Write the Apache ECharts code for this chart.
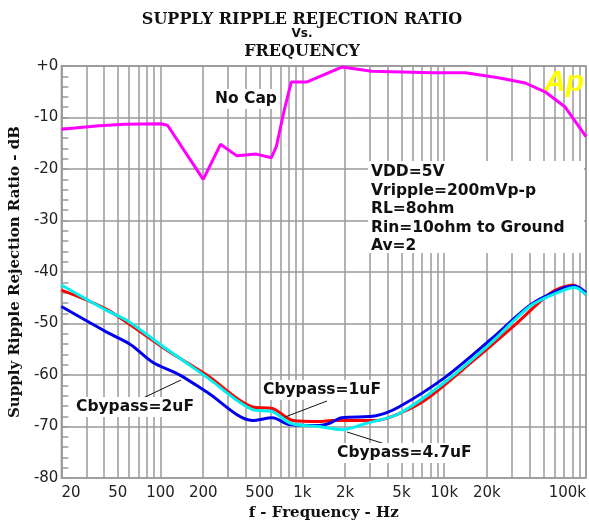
<!DOCTYPE html>
<html>
<head>
<meta charset="utf-8">
<script src="https://cdn.jsdelivr.net/npm/echarts@6/dist/echarts.min.js"></script>
<style>
  html, body { margin: 0; padding: 0; background: #fff; }
  #chart { width: 589px; height: 526px; }
</style>
</head>
<body>
<div id="chart"></div>
<script>
// frequency (Hz) / rejection (dB)
const noCapFreq = [20, 37, 56, 100, 112, 200, 265, 343, 474, 605, 656, 746, 836, 1080, 1900, 3090, 8170, 14100, 24100, 37300, 51400, 70900, 100000]
const noCapDb = [-12.3, -11.6, -11.3, -11.2, -11.5, -22, -15.2, -17.4, -17.1, -17.8, -15.6, -8.5, -3.1, -3.1, -0.2, -1.0, -1.3, -1.3, -2.3, -3.3, -5.0, -7.9, -13.7]

const cb1Freq = [20, 42, 111, 212, 445, 615, 855, 1310, 1620, 3300, 4790, 7400, 15600, 31700, 56700, 80900, 100000]
const cb1Db = [-43.5, -47.3, -55.2, -60, -66.2, -66.5, -68.8, -69, -68.8, -68.8, -67.5, -64.8, -57.5, -50.2, -44, -42.5, -44.4]

const cb2Freq = [20, 42, 61, 88, 137, 212, 445, 615, 810, 1310, 1540, 1900, 3300, 4790, 10200, 21500, 41000, 71100, 83600, 100000]
const cb2Db = [-46.7, -51.7, -54, -57.5, -60, -63.3, -68.8, -68.3, -69.6, -69.8, -69.4, -68.3, -67.9, -66.2, -60.4, -53, -46.3, -43, -42.7, -44]

const cb47Freq = [20, 42, 58, 111, 212, 445, 615, 836, 1310, 1900, 2800, 4790, 10200, 21500, 41000, 71100, 83600, 100000]
const cb47Db = [-42.5, -47.5, -49.4, -55, -60.4, -66.7, -67.1, -69.4, -70, -70.6, -69.4, -67.5, -61.3, -53.7, -46.5, -43.4, -43, -44.4]

const xGridTicks = [
    20, 30, 40, 50, 60, 70, 80, 90,
    100, 200, 300, 400, 500, 600, 700, 800, 900,
    1000, 2000, 3000, 4000, 5000, 6000, 7000, 8000, 9000,
    10000, 20000, 30000, 40000, 50000, 60000, 70000, 80000, 90000,
    100000
]
const xLabelTicks = [20, 50, 100, 200, 500, 1000, 2000, 5000, 10000, 20000, 100000]

const conditions = ['VDD=5V', 'Vripple=200mVp-p', 'RL=8ohm', 'Rin=10ohm to Ground', 'Av=2']

const pairs = (xs, ys) => xs.map((x, i) => [x, ys[i]])

const chart = echarts.init(document.getElementById('chart'))

const gridColor = '#9a9a9a'
const serifBold = { fontFamily: 'DejaVu Serif', fontWeight: 'bold', fill: '#111' }
const noteFont = { fontFamily: 'DejaVu Sans', fontWeight: 'bold', fontSize: 15.5, fill: '#111' }

const annotations = [
    // title
    { type: 'text', x: 302, y: 20, style: Object.assign({ text: 'SUPPLY RIPPLE REJECTION RATIO', fontSize: 16, align: 'center', verticalAlign: 'middle' }, serifBold) },
    { type: 'text', x: 302, y: 34, style: { text: 'Vs.', fontFamily: 'DejaVu Sans', fontWeight: 'bold', fontSize: 12, fill: '#111', align: 'center', verticalAlign: 'middle' } },
    { type: 'text', x: 302, y: 52, style: Object.assign({ text: 'FREQUENCY', fontSize: 16, align: 'center', verticalAlign: 'middle' }, serifBold) },
    // watermark
    { type: 'text', x: 544, y: 83, z: 1, style: { text: 'Ap', fontFamily: 'Liberation Sans', fontStyle: 'italic', fontWeight: 'bold', fontSize: 30, fill: '#ffff00', verticalAlign: 'middle' } },
    // conditions box
    { type: 'rect', z: 50, shape: { x: 368, y: 161, width: 216, height: 92 }, style: { fill: '#fff' } },
    // leader lines
    { type: 'line', z: 60, shape: { x1: 143, y1: 398, x2: 181, y2: 380 }, style: { stroke: '#111', lineWidth: 1 } },
    { type: 'line', z: 60, shape: { x1: 327, y1: 401, x2: 285, y2: 417 }, style: { stroke: '#111', lineWidth: 1 } },
    { type: 'line', z: 60, shape: { x1: 347, y1: 432, x2: 388, y2: 445 }, style: { stroke: '#111', lineWidth: 1 } },
    // curve labels
    { type: 'text', z: 70, x: 213, y: 99, style: Object.assign({ text: 'No Cap', verticalAlign: 'middle', backgroundColor: '#fff', padding: [2, 2] }, noteFont) },
    { type: 'text', z: 70, x: 74, y: 407, style: Object.assign({ text: 'Cbypass=2uF', verticalAlign: 'middle', backgroundColor: '#fff', padding: [2, 2] }, noteFont) },
    { type: 'text', z: 70, x: 261, y: 390, style: Object.assign({ text: 'Cbypass=1uF', verticalAlign: 'middle', backgroundColor: '#fff', padding: [2, 2] }, noteFont) },
    { type: 'text', z: 70, x: 335, y: 453, style: Object.assign({ text: 'Cbypass=4.7uF', verticalAlign: 'middle', backgroundColor: '#fff', padding: [2, 2] }, noteFont) }
]

conditions.forEach((t, i) => {
    annotations.push({ type: 'text', z: 70, x: 371, y: 172 + i * 18.6, style: Object.assign({ text: t, verticalAlign: 'middle' }, noteFont) })
})

const option = {
    backgroundColor: '#fff',
    animation: false,
    grid: { left: 61, right: 1, top: 66, bottom: 43, show: true, borderColor: gridColor, borderWidth: 1.5 },
    xAxis: {
        type: 'log',
        logBase: 10,
        min: 20,
        max: 100000,
        name: 'f - Frequency - Hz',
        nameLocation: 'middle',
        nameGap: 24,
        nameTextStyle: { fontFamily: 'DejaVu Serif', fontWeight: 'bold', fontSize: 15, color: '#111' },
        axisLine: { lineStyle: { color: gridColor, width: 1.5 } },
        axisTick: { show: false, customValues: xGridTicks },
        splitLine: { show: true, lineStyle: { color: gridColor, width: 1.5 } },
        axisLabel: {
            customValues: xLabelTicks,
            alignMinLabel: 'left',
            alignMaxLabel: 'right',
            margin: 8,
            fontFamily: 'DejaVu Sans',
            fontSize: 15,
            color: '#222',
            formatter: v => v >= 1000 ? (v / 1000) + 'k' : String(v)
        }
    },
    yAxis: {
        type: 'value',
        min: -80,
        max: 0,
        interval: 10,
        name: 'Supply Ripple Rejection Ratio - dB',
        nameLocation: 'middle',
        nameGap: 36,
        nameTextStyle: { fontFamily: 'DejaVu Serif', fontWeight: 'bold', fontSize: 15, color: '#111' },
        axisLine: { show: true, lineStyle: { color: gridColor, width: 1.5 } },
        axisTick: { show: true, inside: true, length: 7, lineStyle: { color: gridColor, width: 1.5 } },
        minorTick: { show: true, splitNumber: 5, length: 7, lineStyle: { color: gridColor, width: 1.5 } },
        splitLine: { show: true, lineStyle: { color: gridColor, width: 1.5 } },
        axisLabel: {
            margin: 3,
            fontFamily: 'DejaVu Sans',
            fontSize: 15,
            color: '#222',
            formatter: v => v === 0 ? '+0' : String(v)
        }
    },
    graphic: annotations,
    series: [
        {
            name: 'No Cap', type: 'line', data: pairs(noCapFreq, noCapDb),
            showSymbol: false, lineStyle: { color: '#ff00ff', width: 3 }, z: 3
        },
        {
            name: 'Cbypass=1uF', type: 'line', data: pairs(cb1Freq, cb1Db), smooth: 0.3,
            showSymbol: false, lineStyle: { color: '#ff0000', width: 3 }, z: 3
        },
        {
            name: 'Cbypass=2uF', type: 'line', data: pairs(cb2Freq, cb2Db), smooth: 0.3,
            showSymbol: false, lineStyle: { color: '#0000ee', width: 3 }, z: 3
        },
        {
            name: 'Cbypass=4.7uF', type: 'line', data: pairs(cb47Freq, cb47Db), smooth: 0.3,
            showSymbol: false, lineStyle: { color: '#00f0f0', width: 3 }, z: 3
        }
    ]
}

chart.setOption(option)
</script>
</body>
</html>
